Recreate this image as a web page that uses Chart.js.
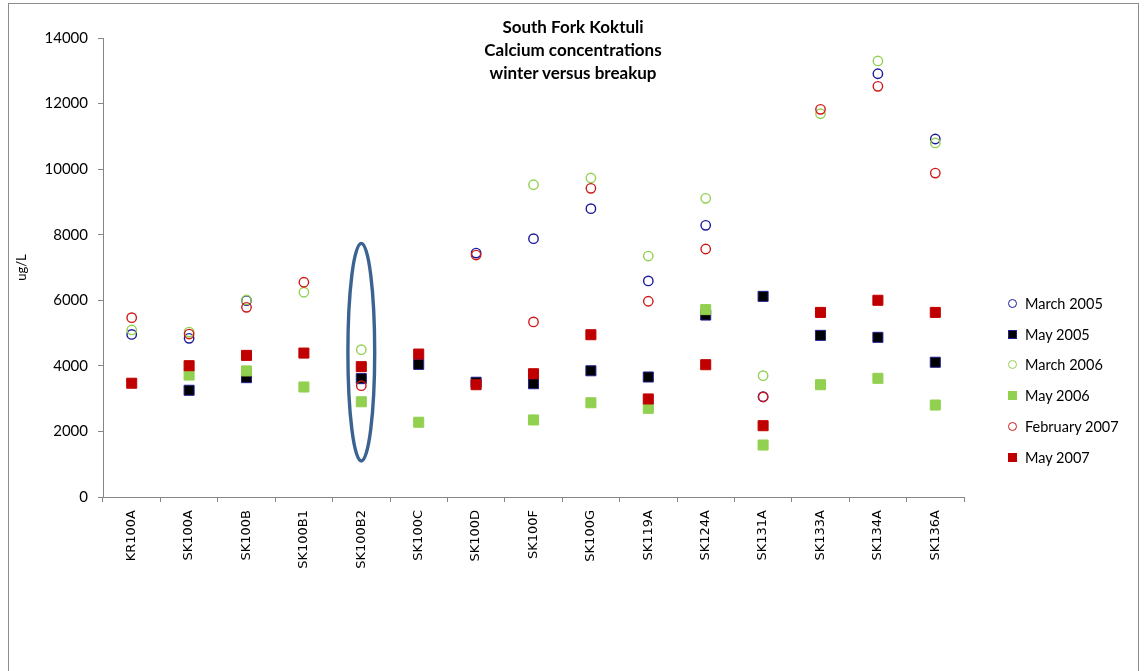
<!DOCTYPE html>
<html>
<head>
<meta charset="utf-8">
<title>South Fork Koktuli – Calcium concentrations</title>
<script src="https://cdn.jsdelivr.net/npm/chart.js@4.4.1/dist/chart.umd.min.js"></script>
<style>
  html, body { margin: 0; padding: 0; background: #fff; overflow: hidden; }
  #wrap { position: relative; width: 1144px; height: 671px; }
  #frame { position: absolute; left: 8px; top: 3px; width: 1131px; height: 720px;
           border: 1px solid #8c8c8c; box-sizing: border-box; pointer-events: none; }
  #chart { position: absolute; left: 0; top: 0; }
  #title { position: absolute; left: 0; top: 15px; width: 1146px; text-align: center;
           font: bold 17px Lato, sans-serif; line-height: 23px; color: #000; }
  #legend { position: absolute; left: 1008px; top: 288px; font: 14.5px Lato, sans-serif; color: #000; }
  .item { display: flex; align-items: center; height: 30.8px; white-space: nowrap; }
  .mark { display: inline-block; box-sizing: border-box; margin-right: 8px; }
  .mark.circle { width: 9px; height: 9px; border-radius: 50%; border: 1.4px solid; }
  .mark.rect { width: 9px; height: 9px; border: 1px solid; }
</style>
</head>
<body>
<div id="wrap">
  <canvas id="chart" width="1144" height="671"></canvas>
  <div id="title">South Fork Koktuli<br>Calcium concentrations<br>winter versus breakup</div>
  <div id="legend"></div>
  <div id="frame"></div>
</div>
<script>
// Sampling sites along the South Fork Koktuli
const sites = ['KR100A', 'SK100A', 'SK100B', 'SK100B1', 'SK100B2', 'SK100C', 'SK100D', 'SK100F',
               'SK100G', 'SK119A', 'SK124A', 'SK131A', 'SK133A', 'SK134A', 'SK136A'];

// Calcium concentration (ug/L) per site; null = not sampled
const march2005 = [4960, 4840, 5990, null, null, null, 7440, 7880, 8795, 6590, 8285, 3060, null, 12910, 10920];
const may2005   = [null, 3255, 3640, null, 3610, 4045, 3500, 3455, 3850, 3660, 5550, 6120, 4930, 4870, 4110];
const march2006 = [5095, 5030, 6010, 6245, 4495, null, null, 9525, 9730, 7350, 9110, 3700, 11690, 13300, 10800];
const may2006   = [null, 3720, 3845, 3355, 2905, 2280, null, 2350, 2875, 2705, 5715, 1585, 3425, 3620, 2805];
const feb2007   = [5470, 4970, 5785, 6550, 3395, null, 7380, 5340, 9415, 5970, 7565, 3050, 11825, 12525, 9880];
const may2007   = [3470, 4005, 4320, 4390, 3975, 4360, 3425, 3760, 4950, 2990, 4035, 2175, 5630, 6000, 5630];

// Y axis tick range
const yMin = 0, yMax = 14000, yStep = 2000;

// Highlighted site and the concentration span the ellipse encloses
const highlightSite = 'SK100B2';
const highlightSpan = [1100, 7735];

const seriesNames  = ['March 2005', 'May 2005', 'March 2006', 'May 2006', 'February 2007', 'May 2007'];
const seriesValues = [march2005, may2005, march2006, may2006, feb2007, may2007];
const seriesShape  = ['circle', 'rect', 'circle', 'rect', 'circle', 'rect'];
const seriesFill   = ['rgba(0,0,0,0)', '#000000', 'rgba(0,0,0,0)', '#92d050', 'rgba(0,0,0,0)', '#c00000'];
const seriesEdge   = ['#1a1a9c', '#202090', '#92d050', '#92d050', '#d01818', '#c00000'];

const datasets = seriesNames.map((name, i) => ({
  label: name,
  data: seriesValues[i],
  showLine: false,
  pointStyle: seriesShape[i],
  pointRadius: seriesShape[i] === 'rect' ? 7.1 : 4.7,
  pointBorderWidth: seriesShape[i] === 'rect' ? 1 : 1.4,
  pointBackgroundColor: seriesFill[i],
  pointBorderColor: seriesEdge[i],
  order: seriesNames.length - i   // later series are painted on top
}));

// Ellipse drawn round the highlighted site's points
const highlightPlugin = {
  id: 'siteHighlight',
  afterDatasetsDraw(chart) {
    const { ctx, scales: { x, y } } = chart;
    const cx = x.getPixelForValue(sites.indexOf(highlightSite));
    const top = y.getPixelForValue(highlightSpan[1]);
    const bottom = y.getPixelForValue(highlightSpan[0]);
    ctx.save();
    ctx.beginPath();
    ctx.ellipse(cx, (top + bottom) / 2, 13.4, (bottom - top) / 2, 0, 0, Math.PI * 2);
    ctx.lineWidth = 3.4;
    ctx.strokeStyle = '#3b6392';
    ctx.stroke();
    ctx.restore();
  }
};

const axisGrey = '#868686';

const chart = new Chart(document.getElementById('chart'), {
  type: 'line',
  data: { labels: sites, datasets },
  plugins: [highlightPlugin],
  options: {
    responsive: false,
    animation: false,
    devicePixelRatio: 1,
    layout: { padding: { left: 0, top: 38, right: 180, bottom: 0 } },
    plugins: { legend: { display: false }, title: { display: false }, tooltip: { enabled: false } },
    scales: {
      x: {
        type: 'category',
        offset: true,
        grid: { offset: true, drawOnChartArea: false, drawTicks: true, tickLength: 5, color: axisGrey },
        border: { color: axisGrey },
        ticks: {
          autoSkip: false, minRotation: 90, maxRotation: 90, padding: 8, color: '#000',
          font: { family: "'DejaVu Sans', Verdana, sans-serif", size: 13 }
        },
        afterFit(scale) { scale.height = 174; }
      },
      y: {
        min: yMin, max: yMax,
        grid: { drawOnChartArea: false, drawTicks: true, tickLength: 5, color: axisGrey },
        border: { color: axisGrey },
        ticks: {
          stepSize: yStep, padding: 10, color: '#000', font: { family: 'Lato', size: 15 },
          callback: (value) => String(value)
        },
        title: { display: true, text: 'ug/L', color: '#000', font: { family: 'Lato', size: 13 }, padding: { top: 14, bottom: 0 } },
        afterFit(scale) { scale.width = 103; }
      }
    }
  }
});

// Legend built from the same series definitions
const legend = document.getElementById('legend');
seriesNames.forEach((name, i) => {
  const row = document.createElement('div');
  row.className = 'item';
  const mark = document.createElement('span');
  mark.className = 'mark ' + seriesShape[i];
  mark.style.borderColor = seriesEdge[i];
  mark.style.background = seriesFill[i];
  const text = document.createElement('span');
  text.textContent = name;
  row.appendChild(mark);
  row.appendChild(text);
  legend.appendChild(row);
});
</script>
</body>
</html>
